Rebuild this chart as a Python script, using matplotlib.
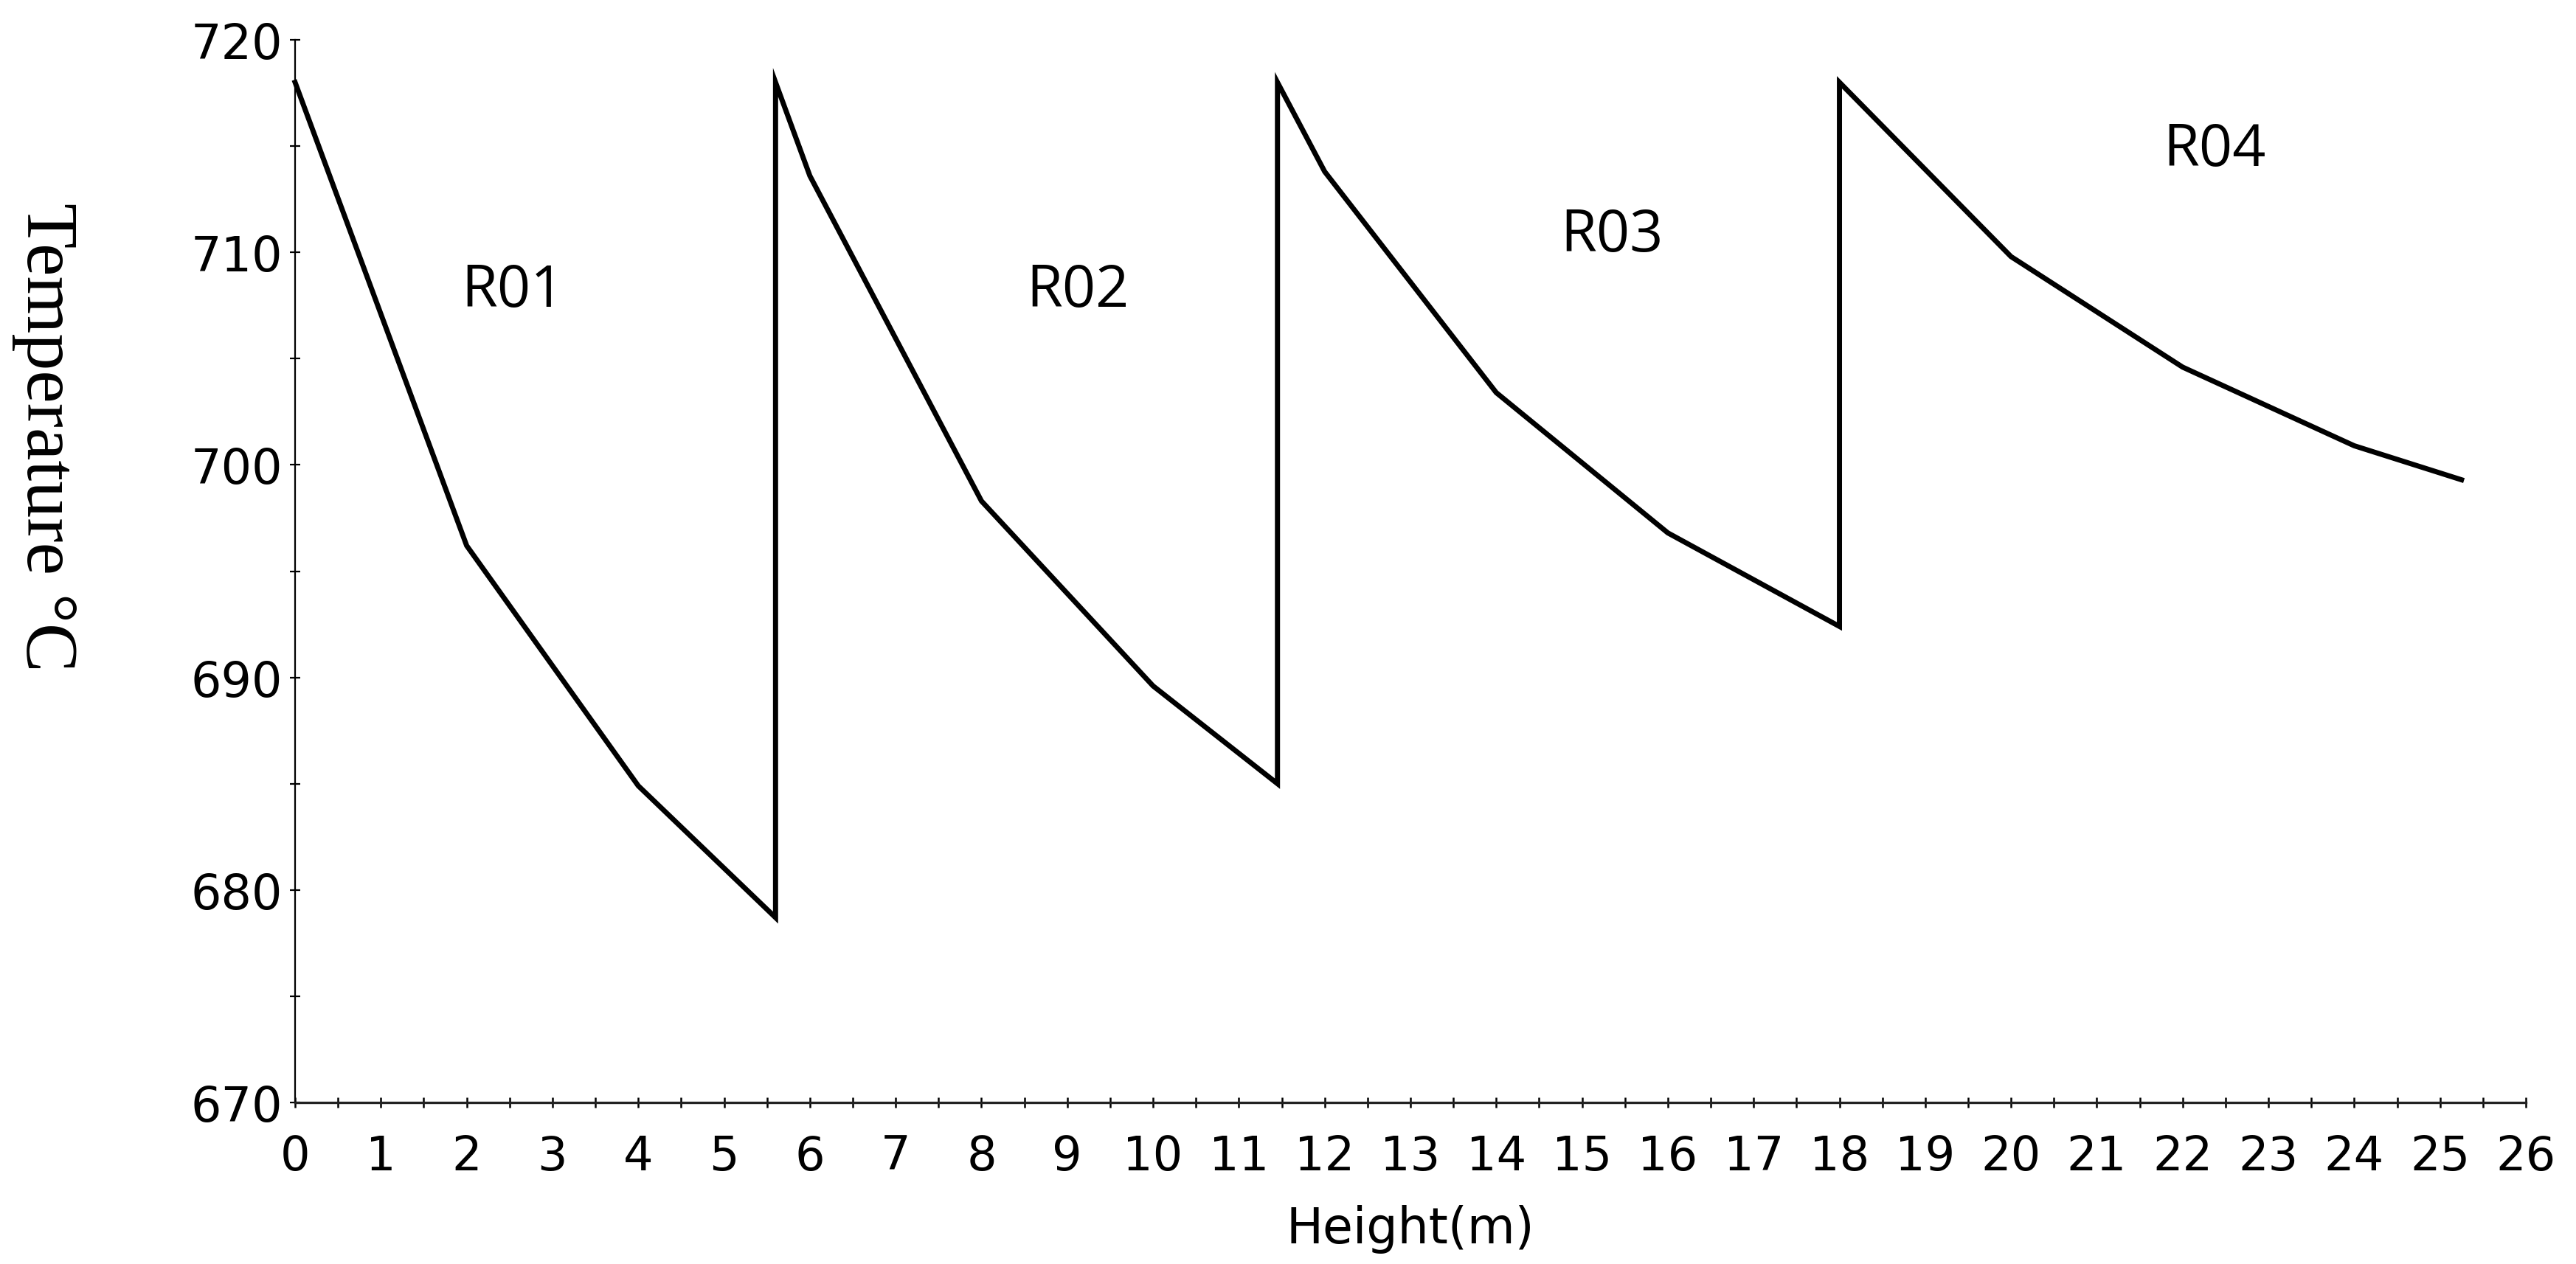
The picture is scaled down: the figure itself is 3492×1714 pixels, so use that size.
import matplotlib
matplotlib.use("Agg")
import matplotlib.pyplot as plt
from matplotlib.ticker import MultipleLocator

# Data
height_m = [0.0, 2.0, 4.0, 5.6, 5.6, 6.0, 8.0, 10.0, 11.45, 11.45,
            12.0, 14.0, 16.0, 18.0, 18.0, 20.0, 22.0, 24.0, 25.25]
temperature_c = [718.0, 696.2, 684.9, 678.7, 718.0, 713.6, 698.3, 689.6, 685.0, 718.0,
                 713.8, 703.4, 696.8, 692.4, 718.0, 709.8, 704.6, 700.9, 699.3]

region_labels = ["R01", "R02", "R03", "R04"]
region_x = [2.54, 9.12, 15.35, 22.37]
region_y = [708.2, 708.2, 710.8, 714.8]

x_ticks = list(range(0, 27))
y_ticks = [670, 680, 690, 700, 710, 720]

W, H, DPI = 3492, 1715, 100
fig = plt.figure(figsize=(W / DPI, H / DPI), dpi=DPI)
ax_left, ax_right = 400 / W, 3424 / W
ax_bottom, ax_top = 1 - 1496 / H, 1 - 55 / H
ax = fig.add_axes([ax_left, ax_bottom, ax_right - ax_left, ax_top - ax_bottom])

ax.plot(height_m, temperature_c, color="black", linewidth=5.0,
        solid_joinstyle="miter", clip_on=False)

for lab, x, y in zip(region_labels, region_x, region_y):
    ax.text(x, y, lab, ha="center", va="center", fontsize=57,
            family=["Open Sans", "DejaVu Sans"], color="black")

ax.set_xlim(0, 26)
ax.set_ylim(670, 720)
ax.set_xticks(x_ticks)
ax.set_xticklabels([str(t) for t in x_ticks])
ax.xaxis.set_minor_locator(MultipleLocator(0.5))
ax.set_yticks(y_ticks)
ax.set_yticklabels([str(t) for t in y_ticks])
ax.yaxis.set_minor_locator(MultipleLocator(5))

for s in ["top", "right"]:
    ax.spines[s].set_visible(False)
ax.spines["left"].set_linewidth(1.6)
ax.spines["left"].set_color("black")
ax.spines["bottom"].set_linewidth(2.4)
ax.spines["bottom"].set_color("#222222")

ax.tick_params(axis="x", which="both", direction="inout", length=10, width=1.8,
               labelsize=46, pad=25)
ax.tick_params(axis="y", which="both", direction="inout", length=10, width=1.6,
               labelsize=47, pad=7)
for lbl in ax.get_xticklabels() + ax.get_yticklabels():
    lbl.set_family("DejaVu Sans")

ax.set_xlabel("Height(m)", fontsize=48, family="DejaVu Sans", va="baseline")
ax.xaxis.set_label_coords(0.5, (1496 - 1686) / 1441)

ax.set_ylabel("Temperature \u00b0C", fontsize=72, family=["Liberation Serif", "DejaVu Serif"],
              rotation=-90, va="center", ha="center")
ax.yaxis.set_label_coords((61 - 400) / 3024, 0.627)

fig.savefig("out.png", dpi=DPI, facecolor="white")
